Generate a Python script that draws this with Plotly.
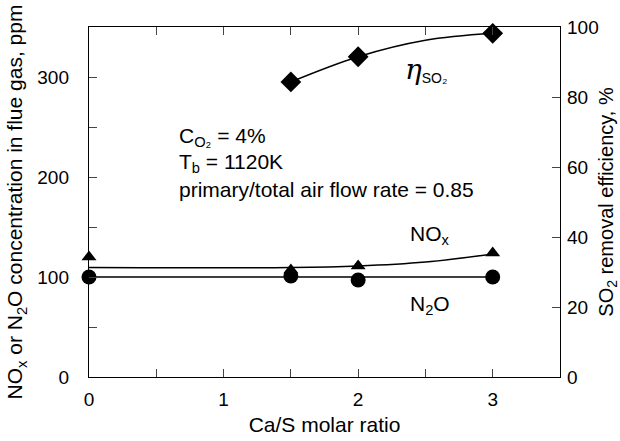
import plotly.graph_objects as go

# Data
ca_s_nox = [0, 1.5, 2, 3]
nox_ppm = [120, 107, 111, 124]
ca_s_n2o = [0, 1.5, 2, 3]
n2o_ppm = [100, 101, 97, 100]
ca_s_so2 = [1.5, 2, 3]
so2_eff = [84.3, 91.5, 98.2]

# fitted curves
nox_fit_x = [0, 1.5, 2, 2.5, 3]
nox_fit_y = [109.5, 109.5, 111, 115, 123]
n2o_fit_x = [0, 3]
n2o_fit_y = [100, 100]
so2_fit_x = [1.5, 2, 2.5, 3]
so2_fit_y = [84.3, 91.5, 96.2, 98.2]

x_tickvals = [0, 0.5, 1, 1.5, 2, 2.5, 3]
x_ticktext = ["0", "", "1", "", "2", "", "3"]
y_tickvals = [0, 50, 100, 150, 200, 250, 300]
y_ticktext = ["0", "", "100", "", "200", "", "300"]
y2_tickvals = [0, 20, 40, 60, 80, 100]

FONT = "Liberation Sans, Arial, sans-serif"
fig = go.Figure()

fig.add_trace(go.Scatter(x=nox_fit_x, y=nox_fit_y, mode="lines",
                         line=dict(color="black", width=1.4, shape="spline"), showlegend=False))
fig.add_trace(go.Scatter(x=n2o_fit_x, y=n2o_fit_y, mode="lines",
                         line=dict(color="black", width=1.4), showlegend=False))
fig.add_trace(go.Scatter(x=ca_s_nox, y=nox_ppm, mode="markers",
                         marker=dict(symbol="triangle-up", size=13, color="black"),
                         cliponaxis=False, showlegend=False))
fig.add_trace(go.Scatter(x=ca_s_n2o, y=n2o_ppm, mode="markers",
                         marker=dict(symbol="circle", size=15, color="black"),
                         cliponaxis=False, showlegend=False))
fig.add_trace(go.Scatter(x=so2_fit_x, y=so2_fit_y, mode="lines", yaxis="y2",
                         line=dict(color="black", width=1.4, shape="spline"), showlegend=False))
fig.add_trace(go.Scatter(x=ca_s_so2, y=so2_eff, mode="markers", yaxis="y2",
                         marker=dict(symbol="diamond", size=16, color="black"),
                         cliponaxis=False, showlegend=False))

annots = [
    dict(x=0.655, y=240, text="C<sub>O₂</sub> = 4%", xanchor="left"),
    dict(x=0.655, y=214, text="T<sub>b</sub> = 1120K", xanchor="left"),
    dict(x=0.655, y=188, text="primary/total air flow rate = 0.85", xanchor="left"),
    dict(x=2.37, y=142, text="NO<sub>x</sub>", xanchor="left"),
    dict(x=2.37, y=72, text="N<sub>2</sub>O", xanchor="left"),
]
for a in annots:
    fig.add_annotation(xref="x", yref="y", showarrow=False, yanchor="middle",
                       font=dict(family=FONT, size=21, color="black"), **a)
fig.add_annotation(xref="x", yref="y", x=2.33, y=308, showarrow=False, xanchor="left",
                   text="<i>η</i><span style='font-size:20px;font-family:Liberation Sans'><sub>SO₂</sub></span>",
                   font=dict(family="DejaVu Serif, serif", size=28, color="black"))

fig.update_layout(
    width=620, height=441,
    margin=dict(l=89, r=60, t=27, b=64, autoexpand=False),
    plot_bgcolor="white", paper_bgcolor="white",
    font=dict(family=FONT, size=18, color="black"),
    xaxis=dict(range=[0, 3.5], tickvals=x_tickvals, ticktext=x_ticktext,
               ticks="inside", ticklen=8, tickwidth=1.3, showline=True, linecolor="black",
               linewidth=1.4, mirror="ticks", showgrid=False, zeroline=False,
               ticklabelstandoff=5, automargin=False,
               title=dict(text="Ca/S molar ratio", font=dict(size=21), standoff=8),
               tickfont=dict(size=19)),
    yaxis=dict(range=[0, 350], tickvals=y_tickvals, ticktext=y_ticktext,
               ticks="inside", ticklen=8, tickwidth=1.3, showline=True, linecolor="black",
               linewidth=1.4, showgrid=False, zeroline=False,
               ticklabelstandoff=15, automargin=False,
               title=dict(text="NO<sub>x</sub> or N<sub>2</sub>O concentration in flue gas, ppm",
                          font=dict(size=21), standoff=8),
               tickfont=dict(size=19)),
    yaxis2=dict(range=[0, 100], tickvals=y2_tickvals, overlaying="y", side="right",
                ticks="inside", ticklen=8, tickwidth=1.3, showline=True, linecolor="black",
                linewidth=1.4, showgrid=False, zeroline=False,
                ticklabelstandoff=2, automargin=False,
                title=dict(text="SO<sub>2</sub> removal efficiency, %", font=dict(size=20), standoff=6),
                tickfont=dict(size=19)),
)

fig.write_html("out.html")
